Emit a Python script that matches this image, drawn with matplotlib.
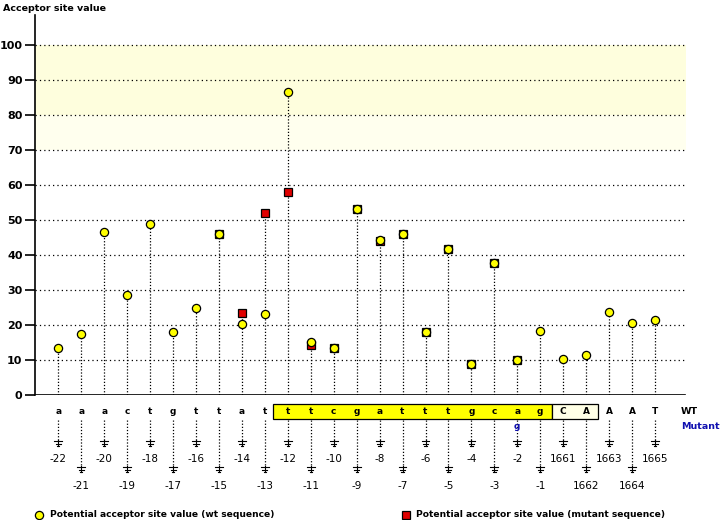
import matplotlib
matplotlib.use("Agg")
import matplotlib.pyplot as plt
from matplotlib.patches import Rectangle

# DATOS DEL GRAFICO

posiciones = ["-22", "-21", "-20", "-19", "-18", "-17", "-16", "-15", "-14", "-13", "-12",
              "-11", "-10", "-9", "-8", "-7", "-6", "-5", "-4", "-3", "-2", "-1",
              "1661", "1662", "1663", "1664", "1665"]
secuencia_wt = ["a", "a", "a", "c", "t", "g", "t", "t", "a", "t", "t",
                "t", "c", "g", "a", "t", "t", "t", "g", "c", "a", "g",
                "C", "A", "A", "A", "T"]
secuencia_mut = [""] * 20 + ["g"] + [""] * 6
valores_wt = [13.5, 17.5, 46.7, 28.7, 49.0, 18.1, 25.0, 46.1, 20.4, 23.2, 86.6,
              15.2, 13.5, 53.1, 44.3, 46.0, 18.1, 41.6, 8.8, 37.6, 10.1, 18.4,
              10.4, 11.3, 23.8, 20.6, 21.5]
# None donde no hay valor para la secuencia mutante
valores_mut = [None] * 7 + [46.1, 23.5, 52.1, 57.9, 14.4, 13.5, 53.1, 43.9, 46.0,
                            18.1, 41.6, 8.8, 37.6, 10.1] + [None] * 6

amarillo = "#FFFF00"
rojo = "#E00000"
azul = "#1010B0"

def py(pix):
    """Convierte una altura en pixeles de la imagen a unidades del eje y."""
    return (395 - pix) / 3.5

fig = plt.figure(figsize=(7.2, 5.2), dpi=100)
ax = fig.add_axes([35 / 720, 1 - 395 / 520, 651 / 720, 380 / 520])
ax.set_xlim(-1.015, 27.35)
ax.set_ylim(0, 108.6)

x = list(range(len(posiciones)))

# Bandas de fondo
ax.axhspan(80, 100, color="#FEFEDD", zorder=0, lw=0)
ax.axhspan(70, 80, color="#FFFFEE", zorder=0, lw=0)

# Grilla punteada
for v in range(10, 101, 10):
    ax.axhline(v, color="black", lw=0.9, linestyle=(0, (1, 2.5)), zorder=1)

# Tallos punteados
for i in x:
    tope = valores_wt[i]
    if valores_mut[i] is not None:
        tope = max(tope, valores_mut[i])
    ax.plot([i, i], [0, tope], color="black", lw=0.9, linestyle=(0, (1, 1.5)), zorder=2)

# Cuadrados (mutante) y luego circulos (wt)
for i in x:
    if valores_mut[i] is None:
        continue
    color = rojo if abs(valores_mut[i] - valores_wt[i]) > 0.3 else amarillo
    ax.plot(i, valores_mut[i], marker="s", ms=5.6, mfc=color, mec="black", mew=0.9, zorder=3)
ax.plot(x, valores_wt, "o", ms=5.9, mfc=amarillo, mec="black", mew=0.9, zorder=4, linestyle="none")

# Ejes
for lado in ["top", "right", "bottom"]:
    ax.spines[lado].set_visible(False)
ax.spines["left"].set_linewidth(1.2)
ax.axhline(0, color="black", lw=1.2, xmax=(27.3 + 1.015) / 28.365, zorder=5)
ax.set_xticks([])
ax.set_yticks(range(0, 101, 10))
ax.set_yticklabels([str(v) for v in range(0, 101, 10)], fontsize=8, fontweight="bold")
ax.tick_params(axis="y", length=7, width=1.2, pad=2)

ax.text(-1.015 - 32 / 22.95, py(8), "Acceptor site value", fontsize=6.8,
        fontweight="bold", va="center", ha="left", clip_on=False)

# Cajas de la secuencia
ax.add_patch(Rectangle((9.35, py(419)), 21.5 - 9.35, py(404) - py(419), facecolor=amarillo,
                       edgecolor="black", lw=0.9, clip_on=False, zorder=2))
ax.add_patch(Rectangle((21.5, py(419)), 2.0, py(404) - py(419), facecolor="#FFFFE6",
                       edgecolor="black", lw=0.9, clip_on=False, zorder=2))

for i in x:
    ax.text(i, py(412), secuencia_wt[i], fontsize=6.5, fontweight="bold", ha="center",
            va="center", clip_on=False, zorder=3)
    if secuencia_mut[i]:
        ax.text(i, py(427), secuencia_mut[i], fontsize=6.5, fontweight="bold", ha="center",
                va="center", color=azul, clip_on=False)
    # posiciones pares arriba, impares abajo
    if i % 2 == 0:
        fin, etiqueta = 440, 459
    else:
        fin, etiqueta = 466, 486
    ax.plot([i, i], [py(420), py(fin)], color="black", lw=0.9, linestyle=(0, (1, 1.5)),
            clip_on=False)
    ax.plot([i, i], [py(fin), py(fin + 6)], color="black", lw=0.8, clip_on=False)
    for k, ancho in enumerate([0.17, 0.11, 0.05]):
        yy = py(fin + 1.5 + 2.5 * k)
        ax.plot([i - ancho, i + ancho], [yy, yy], color="black", lw=0.8, clip_on=False)
    ax.text(i, py(etiqueta), posiciones[i], fontsize=7.5, ha="center", va="center",
            clip_on=False)

xd = lambda pix: (pix - 58.3) / 22.95
ax.text(xd(681), py(412), "WT", fontsize=6.8, fontweight="bold", ha="left", va="center",
        clip_on=False)
ax.text(xd(681), py(427), "Mutant", fontsize=6.8, fontweight="bold", ha="left", va="center",
        color=azul, clip_on=False)

# Leyenda
ax.plot(xd(39.5), py(515), "o", ms=5.9, mfc=amarillo, mec="black", mew=0.9, clip_on=False)
ax.text(xd(50), py(515), "Potential acceptor site value (wt sequence)", fontsize=6.6,
        fontweight="bold", ha="left", va="center", clip_on=False)
ax.plot(xd(406), py(515), "s", ms=5.6, mfc=rojo, mec="black", mew=0.9, clip_on=False)
ax.text(xd(416), py(515), "Potential acceptor site value (mutant sequence)", fontsize=6.6,
        fontweight="bold", ha="left", va="center", clip_on=False)

fig.savefig("out.png", dpi=100)
